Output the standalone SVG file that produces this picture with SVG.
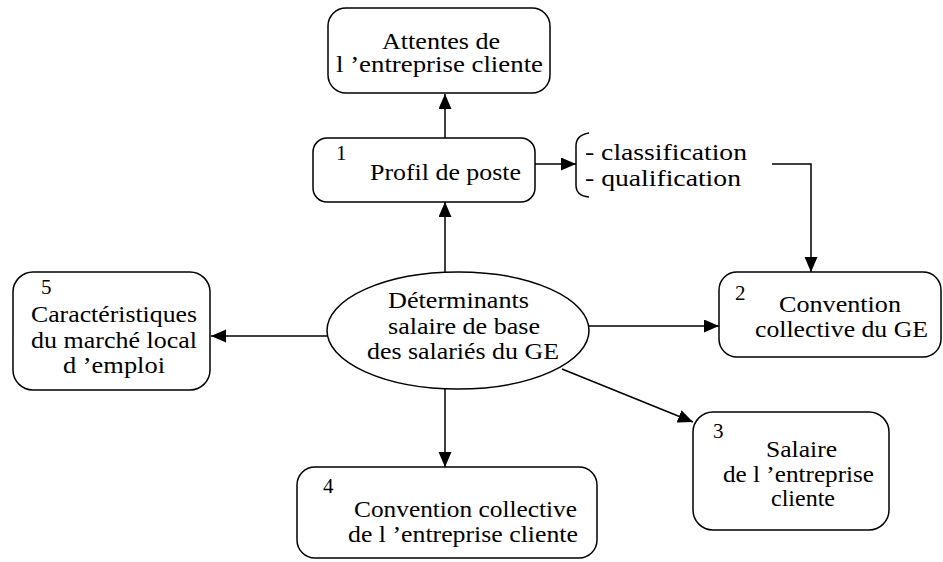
<svg xmlns="http://www.w3.org/2000/svg" width="943" height="562" viewBox="0 0 943 562">
<defs>
<style>
.box{fill:#fff;stroke:#000;stroke-width:1.5}
.t{font-family:'Liberation Serif','Times New Roman',serif;font-size:23px;fill:#000}
.n{font-family:'Liberation Serif','Times New Roman',serif;font-size:21px;fill:#000}
.c{fill:none;stroke:#000;stroke-width:1.5}
</style>
<marker id="ah" markerUnits="userSpaceOnUse" markerWidth="16" markerHeight="14" refX="15" refY="6.5" orient="auto">
<path d="M0,0 L15,6.5 L0,13 z" fill="#000"/>
</marker>
</defs>
<rect width="943" height="562" fill="#fff"/>
<g id="connectors">
<line class="c" x1="445" y1="138" x2="445" y2="94" marker-end="url(#ah)"/>
<line class="c" x1="445" y1="272" x2="445" y2="202" marker-end="url(#ah)"/>
<line class="c" x1="445" y1="389" x2="445" y2="467" marker-end="url(#ah)"/>
<line class="c" x1="327" y1="336" x2="211" y2="336" marker-end="url(#ah)"/>
<line class="c" x1="589" y1="326" x2="719" y2="326" marker-end="url(#ah)"/>
<line class="c" x1="562" y1="369" x2="693" y2="422" marker-end="url(#ah)"/>
<line class="c" x1="535" y1="164" x2="576" y2="164" marker-end="url(#ah)"/>
<polyline class="c" points="772,164 811,164 811,272" marker-end="url(#ah)"/>
</g>
<g id="attentes">
<rect class="box" x="328" y="8" width="222" height="85" rx="18"/>
<text class="t" x="382" y="49" textLength="118" lengthAdjust="spacingAndGlyphs">Attentes de</text>
<text class="t" x="336" y="72" textLength="207" lengthAdjust="spacingAndGlyphs">l ’entreprise cliente</text>
</g>
<g id="profil">
<rect class="box" x="313" y="138" width="222" height="64" rx="14"/>
<text class="n" x="336" y="160">1</text>
<text class="t" x="370" y="180" textLength="151" lengthAdjust="spacingAndGlyphs">Profil de poste</text>
</g>
<g id="bracket">
<path class="c" d="M589,133 Q576,135 576,146 L576,185 Q576,196 589,197"/>
<text class="t" x="585" y="160" textLength="162" lengthAdjust="spacingAndGlyphs">- classification</text>
<text class="t" x="585" y="186" textLength="156" lengthAdjust="spacingAndGlyphs">- qualification</text>
</g>
<g id="determinants">
<ellipse class="box" cx="458" cy="330.5" rx="131" ry="58.5"/>
<text class="t" x="388" y="308" textLength="141" lengthAdjust="spacingAndGlyphs">Déterminants</text>
<text class="t" x="388" y="334" textLength="152" lengthAdjust="spacingAndGlyphs">salaire de base</text>
<text class="t" x="367" y="359" textLength="192" lengthAdjust="spacingAndGlyphs">des salariés du GE</text>
</g>
<g id="n5">
<rect class="box" x="13" y="272" width="197" height="118" rx="20"/>
<text class="n" x="41" y="294">5</text>
<text class="t" x="31" y="322" textLength="166" lengthAdjust="spacingAndGlyphs">Caractéristiques</text>
<text class="t" x="31" y="348" textLength="166" lengthAdjust="spacingAndGlyphs">du marché local</text>
<text class="t" x="63" y="373" textLength="102" lengthAdjust="spacingAndGlyphs">d ’emploi</text>
</g>
<g id="n2">
<rect class="box" x="719" y="272" width="222" height="85" rx="18"/>
<text class="n" x="735" y="300">2</text>
<text class="t" x="779" y="312" textLength="122" lengthAdjust="spacingAndGlyphs">Convention</text>
<text class="t" x="755" y="337" textLength="173" lengthAdjust="spacingAndGlyphs">collective du GE</text>
</g>
<g id="n3">
<rect class="box" x="693" y="412" width="196" height="118" rx="20"/>
<text class="n" x="713" y="438">3</text>
<text class="t" x="766" y="457" textLength="71" lengthAdjust="spacingAndGlyphs">Salaire</text>
<text class="t" x="723" y="482" textLength="151" lengthAdjust="spacingAndGlyphs">de l ’entreprise</text>
<text class="t" x="771" y="506" textLength="64" lengthAdjust="spacingAndGlyphs">cliente</text>
</g>
<g id="n4">
<rect class="box" x="297" y="467" width="300" height="91" rx="18"/>
<text class="n" x="323" y="493">4</text>
<text class="t" x="354" y="517" textLength="223" lengthAdjust="spacingAndGlyphs">Convention collective</text>
<text class="t" x="348" y="542" textLength="230" lengthAdjust="spacingAndGlyphs">de l ’entreprise cliente</text>
</g>
</svg>
